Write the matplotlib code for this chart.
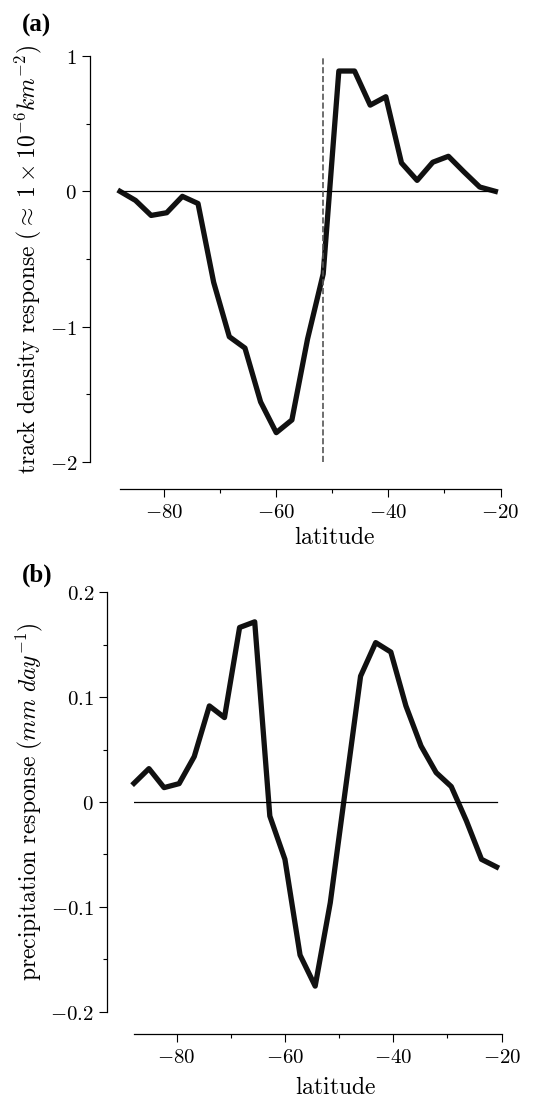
import numpy as np
import matplotlib
matplotlib.use('Agg')
import matplotlib.pyplot as plt
from matplotlib.ticker import MultipleLocator, FuncFormatter

# Gaussian grid latitudes (southern hemisphere)
lats = [-87.86, -85.10, -82.31, -79.53, -76.74, -73.95, -71.16, -68.37,
        -65.58, -62.79, -60.00, -57.21, -54.42, -51.63, -48.84, -46.04,
        -43.25, -40.46, -37.67, -34.88, -32.09, -29.30, -26.51, -23.72, -20.93]

track_resp = [0.0, -0.067, -0.178, -0.158, -0.037, -0.09, -0.672, -1.074,
              -1.158, -1.556, -1.783, -1.689, -1.091, -0.61, 0.889, 0.889,
              0.637, 0.699, 0.21, 0.081, 0.215, 0.259, 0.143, 0.032, 0.0]

precip_resp = [0.0178, 0.0318, 0.0137, 0.0175, 0.0433, 0.0916, 0.0805, 0.1664,
               0.1718, -0.0134, -0.0547, -0.146, -0.1756, -0.096, 0.012, 0.120,
               0.152, 0.143, 0.0916, 0.0534, 0.028, 0.0147, -0.018, -0.0547, -0.062]

jet_lat = -51.63

plt.rcParams['mathtext.fontset'] = 'cm'
TS = 15     # tick labels
LS = 17     # axis labels

fig = plt.figure(figsize=(5.46, 10.98), dpi=100)
ax1 = fig.add_axes([0.2198, 0.5792, 0.697, 0.3698])
ax2 = fig.add_axes([0.2454, 0.0786, 0.6734, 0.382])

fmt = FuncFormatter(lambda v, p: r'$%s$' % ('%g' % round(v, 6)))


def style(ax, xoff, yoff):
    for s in ['top', 'right']:
        ax.spines[s].set_visible(False)
    ax.spines['left'].set_position(('outward', xoff * 0.72))
    ax.spines['bottom'].set_position(('outward', yoff * 0.72))
    for s in ['left', 'bottom']:
        ax.spines[s].set_linewidth(0.9)
    ax.xaxis.set_major_locator(MultipleLocator(20))
    ax.xaxis.set_minor_locator(MultipleLocator(10))
    ax.xaxis.set_major_formatter(fmt)
    ax.yaxis.set_major_formatter(fmt)
    ax.tick_params(which='major', direction='out', length=5.8, width=0.8, labelsize=TS)
    ax.tick_params(which='minor', direction='out', length=3.0, width=0.8)
    ax.spines['bottom'].set_bounds(lats[0], -20)


# (a) track density
ax1.plot(lats, track_resp, color='#111111', lw=3.8, clip_on=False)
ax1.plot([lats[0], lats[-1]], [0, 0], color='black', lw=0.9)
ax1.vlines(jet_lat, -2, 1, colors='#555555', linestyles='--', lw=1.2)
ax1.set_xlim(lats[0], -20)
ax1.set_ylim(-2, 1)
ax1.yaxis.set_major_locator(MultipleLocator(1))
ax1.yaxis.set_minor_locator(MultipleLocator(0.5))
style(ax1, 30, 27)
ax1.set_ylabel(r'$\mathrm{track\ density\ response\ }(\approx\;1\:\times\:10^{-6} km^{-2})$', fontsize=LS)
ax1.set_xlabel(r'$\mathrm{latitude}$', fontsize=LS)
ax1.xaxis.set_label_coords(0.565, -0.155)
fig.text(0.04, 0.977, '(a)', family='Liberation Serif', weight='bold', fontsize=18, va='center')

# (b) precipitation
ax2.plot(lats, precip_resp, color='#111111', lw=3.8, clip_on=False)
ax2.plot([lats[0], lats[-1]], [0, 0], color='black', lw=0.9)
ax2.set_xlim(lats[0], -20)
ax2.set_ylim(-0.2, 0.2)
ax2.yaxis.set_major_locator(MultipleLocator(0.1))
ax2.yaxis.set_minor_locator(MultipleLocator(0.05))
style(ax2, 27, 22)
ax2.set_ylabel(r'$\mathrm{precipitation\ response\ }(mm\ day^{-1})$', fontsize=LS)
ax2.set_xlabel(r'$\mathrm{latitude}$', fontsize=LS)
ax2.xaxis.set_label_coords(0.549, -0.15)
fig.text(0.04, 0.476, '(b)', family='Liberation Serif', weight='bold', fontsize=18, va='center')

fig.savefig('out.png', dpi=100)
